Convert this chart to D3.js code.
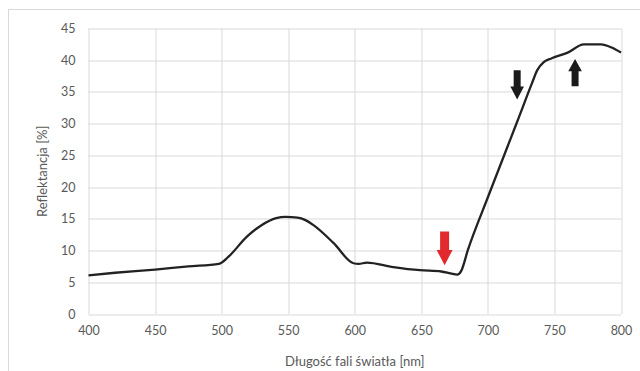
<!DOCTYPE html>
<html>
<head>
<meta charset="utf-8">
<script src="https://cdn.jsdelivr.net/npm/d3@7"></script>
<style>
  body { margin: 0; background: #fff; }
  text { font-family: Lato, "Open Sans", sans-serif; fill: #595959; }
</style>
</head>
<body>
<div class="chart"></div>
<script>
// wavelength [nm] and reflectance [%]
var wavelength = [400, 420, 450, 475, 498, 505, 519, 530, 541, 548, 557, 563, 569, 584, 599, 603, 609, 629, 649, 665, 672, 677, 680, 685, 700, 722, 733, 737, 742, 748, 760, 772, 785, 793, 800];
var reflectance = [6.1, 6.5, 7.0, 7.5, 7.9, 9.0, 12.2, 14.0, 15.1, 15.3, 15.2, 14.8, 14.0, 11.2, 8.0, 7.9, 8.1, 7.4, 6.9, 6.7, 6.4, 6.2, 6.8, 10.1, 18.4, 30.3, 36.3, 38.4, 39.7, 40.3, 41.2, 42.5, 42.5, 42.0, 41.2];

var xTicks = [400, 450, 500, 550, 600, 650, 700, 750, 800];
var yTicks = [0, 5, 10, 15, 20, 25, 30, 35, 40, 45];

// arrows: wavelength, tail value, tip value, colour
var arrowX = [667.5, 722, 765.5];
var arrowFrom = [13.0, 38.4, 35.9];
var arrowTo = [7.7, 33.8, 40.2];
var arrowColor = ["#e2292e", "#1a1a1a", "#1a1a1a"];

var svgWidth = 640;
var svgHeight = 371;
var margin = { top: 28.5, right: 19, bottom: 57, left: 88.5 };
var width = svgWidth - margin.left - margin.right;
var height = svgHeight - margin.top - margin.bottom;

var svg = d3.select(".chart")
  .append("svg")
  .attr("width", svgWidth)
  .attr("height", svgHeight);

// chart border
svg.append("rect")
  .attr("x", 8.5)
  .attr("y", 9.5)
  .attr("width", 700)
  .attr("height", 500)
  .attr("fill", "none")
  .attr("stroke", "#d9d9d9");

var chartGroup = svg.append("g")
  .attr("transform", `translate(${margin.left}, ${margin.top})`);

var xScale = d3.scaleLinear().domain([400, 800]).range([0, width]);
var yScale = d3.scaleLinear().domain([0, 45]).range([height, 0]);

// gridlines
chartGroup.append("g")
  .selectAll("line.h")
  .data(yTicks)
  .enter()
  .append("line")
  .attr("x1", 0)
  .attr("x2", width)
  .attr("y1", d => Math.round(yScale(d)) + 0.5)
  .attr("y2", d => Math.round(yScale(d)) + 0.5)
  .attr("stroke", "#d9d9d9");

chartGroup.append("g")
  .selectAll("line.v")
  .data(xTicks)
  .enter()
  .append("line")
  .attr("x1", d => Math.round(xScale(d)) + 0.5)
  .attr("x2", d => Math.round(xScale(d)) + 0.5)
  .attr("y1", 0)
  .attr("y2", height)
  .attr("stroke", "#d9d9d9");

// axes (labels only)
var bottomAxis = d3.axisBottom(xScale).tickValues(xTicks).tickSize(0).tickPadding(12);
var leftAxis = d3.axisLeft(yScale).tickValues(yTicks).tickSize(0).tickPadding(13);

var xAxis = chartGroup.append("g")
  .attr("transform", `translate(0, ${height})`)
  .call(bottomAxis);
var yAxis = chartGroup.append("g").call(leftAxis);

[xAxis, yAxis].forEach(function(a) {
  a.select(".domain").remove();
  a.selectAll("text")
    .style("font-size", "12.5px")
    .attr("fill", "#595959");
});

// line
var data = wavelength.map((w, i) => ({ x: w, y: reflectance[i] }));
var line = d3.line()
  .x(d => xScale(d.x))
  .y(d => yScale(d.y))
  .curve(d3.curveMonotoneX);

chartGroup.append("path")
  .datum(data)
  .attr("d", line)
  .attr("fill", "none")
  .attr("stroke", "#222")
  .attr("stroke-width", 2.3)
  .attr("stroke-linejoin", "round");

// arrows
arrowX.forEach(function(ax, i) {
  var cx = xScale(ax);
  var y0 = yScale(arrowFrom[i]);
  var y1 = yScale(arrowTo[i]);
  var dir = y1 > y0 ? 1 : -1;
  var len = Math.abs(y1 - y0);
  var shaft = i === 0 ? 4.5 : 3.5;
  var head = i === 0 ? 8 : 6.8;
  var headLen = len * 0.45;
  var yh = y1 - dir * headLen;
  var pts = [
    [cx - shaft, y0], [cx + shaft, y0], [cx + shaft, yh], [cx + head, yh],
    [cx, y1], [cx - head, yh], [cx - shaft, yh]
  ];
  chartGroup.append("polygon")
    .attr("points", pts.map(p => p.join(",")).join(" "))
    .attr("fill", arrowColor[i]);
});

// axis titles
svg.append("text")
  .attr("x", margin.left + width / 2)
  .attr("y", 366)
  .attr("text-anchor", "middle")
  .style("font-size", "13px")
  .text("Długość fali światła [nm]");

svg.append("text")
  .attr("transform", "rotate(-90)")
  .attr("x", -(margin.top + height / 2))
  .attr("y", 47)
  .attr("text-anchor", "middle")
  .style("font-size", "13px")
  .text("Reflektancja [%]");
</script>
</body>
</html>
